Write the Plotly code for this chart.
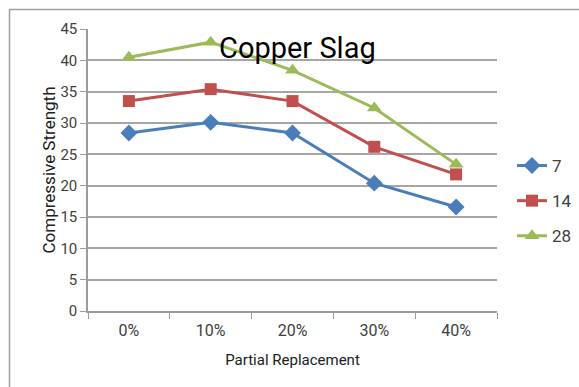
import plotly.graph_objects as go

categories = ["0%", "10%", "20%", "30%", "40%"]
day7 = [28.4, 30.1, 28.4, 20.4, 16.6]
day14 = [33.5, 35.4, 33.5, 26.2, 21.8]
day28 = [40.5, 42.9, 38.4, 32.4, 23.4]

series = [
    ("7", day7, "#4A7EBB", "diamond", 13),
    ("14", day14, "#C0504D", "square", 12),
    ("28", day28, "#9BBB59", "triangle-up", 13),
]

fig = go.Figure()
for i, (name, vals, color, symbol, size) in enumerate(series):
    fig.add_trace(go.Scatter(
        x=categories, y=vals, name=name, mode="lines+markers",
        line=dict(color=color, width=3),
        marker=dict(symbol=symbol, size=size, color=color),
        legendgroup=f"g{i}",
    ))

W, H = 579, 387
L, R, T, B = 88, 82, 29, 76
pw = W - L - R
ph = H - T - B

def px_x(p):
    return (p - L) / pw

def px_y(p):
    return (H - B - p) / ph

fig.update_layout(
    width=W, height=H,
    margin=dict(l=L, r=R, t=T, b=B, autoexpand=False),
    paper_bgcolor="white", plot_bgcolor="white",
    font=dict(family="Roboto", color="#404040", size=13),
    showlegend=True,
    legend=dict(x=px_x(512), y=px_y(148), xanchor="left", yanchor="top",
                traceorder="grouped", tracegroupgap=10, itemwidth=30,
                font=dict(size=17, color="#404040"), bgcolor="rgba(0,0,0,0)"),
    xaxis=dict(
        type="category", range=[-0.5, 4.5], autorange=False,
        showgrid=False, showline=True, linecolor="#9a9a9a", linewidth=1.5,
        ticks="outside", tickson="boundaries", ticklen=6, tickcolor="#9a9a9a",
        tickfont=dict(size=16, color="#404040"), ticklabelstandoff=4,
        title=dict(text="Partial Replacement", font=dict(size=15, color="#202020"), standoff=16),
    ),
    yaxis=dict(
        range=[0, 45], dtick=5, showgrid=True, gridcolor="#a6a6a6", gridwidth=1.5,
        showline=True, linecolor="#9a9a9a", linewidth=1.5, zeroline=False,
        ticks="outside", ticklen=6, tickcolor="#9a9a9a",
        tickfont=dict(size=15, color="#404040"),
        title=dict(text="Compressive Strength", font=dict(size=17, color="#202020"), standoff=0),
    ),
    annotations=[dict(
        text="Copper Slag", xref="paper", yref="paper",
        x=px_x(297), y=px_y(48), xanchor="center", yanchor="middle",
        showarrow=False, font=dict(size=29, color="black", family="Roboto"),
    )],
    shapes=[dict(
        type="rect", xref="paper", yref="paper",
        x0=px_x(9.5), x1=px_x(600), y0=px_y(9.5), y1=px_y(420),
        line=dict(color="#a0a0a0", width=1.5), layer="below",
    )],
)

fig.write_html("out.html")
